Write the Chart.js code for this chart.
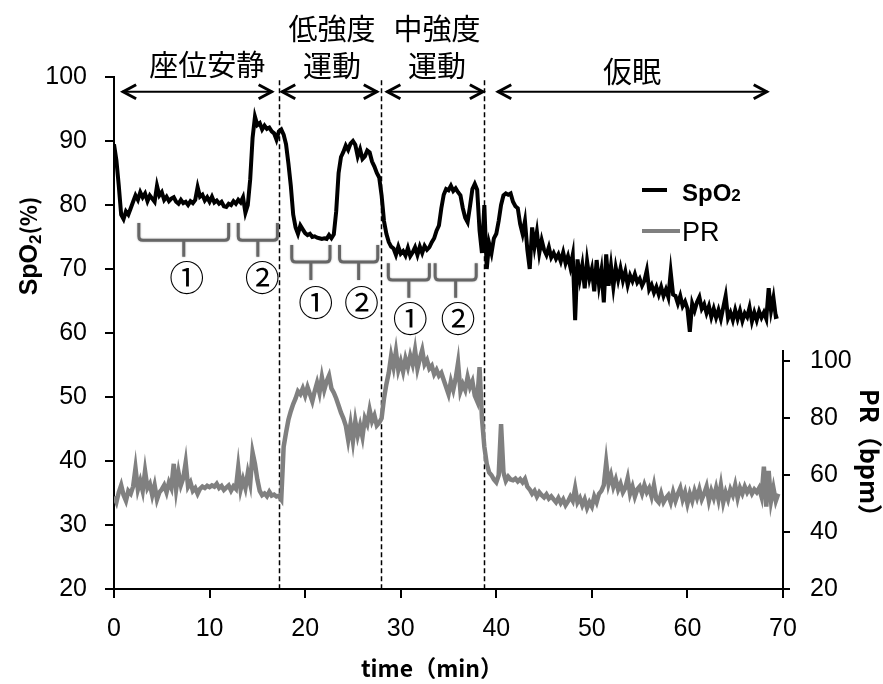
<!DOCTYPE html>
<html lang="ja">
<head>
<meta charset="utf-8">
<title>SpO2 / PR</title>
<script src="https://cdn.jsdelivr.net/npm/chart.js@4.4.1/dist/chart.umd.min.js"></script>
<style>
  html, body { margin: 0; padding: 0; background: #fff; }
</style>
</head>
<body>
<canvas id="oxChart" width="883" height="684"></canvas>
<script>
// sampling interval of the oximeter log (min)
const sampleStep = 0.25;
// start time of each recorded block (min)
const blockStart = [0, 17.5, 28, 38.75];

// SpO2 (%) per block
const spo2Rest = [89.5, 87, 83, 78.5, 77.8, 79, 78.5, 79.5, 80.5, 81.5, 80.8, 82, 81.2, 81.8, 80.6, 81.5,
  81, 80.5, 83, 81.5, 82, 80.8, 81.3, 80.6, 81, 81.2, 80.5, 80.2, 80.8, 80.3, 80.5, 80,
  80.6, 80.3, 80.8, 82.8, 81.3, 81.6, 80.7, 81.2, 80.5, 81.3, 80.4, 80.7, 80.2, 80.5, 79.8, 79.7,
  80.2, 80, 80.6, 80.2, 80.8, 80.4, 81.2, 78.8, 80, 84, 90.5, 93.8, 92.5, 92.8, 91.8, 92.4,
  91.9, 92.1, 91.5, 91.2, 90.2, 91.5];
const spo2Low = [91.8, 91, 89.5, 86.5, 83, 78.5, 76.5, 75.5, 76.8, 76.2, 75.6, 75.3, 75.5, 75,
  75.1, 74.9, 74.8, 74.7, 74.8, 74.7, 75.3, 74.8, 75.4, 79, 85, 87.5, 88.3, 89.3, 88.6, 89.6,
  90, 89.4, 87.6, 88.7, 87.2, 87.6, 88.5, 88.2, 86.8, 86, 85, 84.3];
const spo2Mid = [81.5, 77.5, 75.5, 74.2, 73.5, 73.2, 72.2, 73.5, 72.4, 72.8, 72.1, 73.3, 72, 72.6,
  73.4, 72.2, 73.5, 72.5, 73.6, 73, 73.4, 74.2, 74.8, 76, 76.8, 79.5, 81.6, 82.5, 82.3, 83,
  82.2, 82.6, 82, 81.5, 79.5, 78, 77.3, 79.8, 82.5, 83.3, 82.4, 76, 72.5];
const spo2Nap = [80, 70, 74, 72.5, 74.8, 75.5, 77.5, 80, 81.5, 81.8, 81.6, 81.8, 80.5, 79.8, 79.5, 77,
  75.5, 77.5, 73, 70, 76.5, 73.5, 75.8, 72.5, 74.5, 73, 72.2, 73.4, 71.8, 72.5, 71.6, 72.3,
  71.2, 72.6, 70.9, 72, 70.3, 72.2, 62, 71.5, 68.5, 70.6, 67, 71.2, 68.5, 70, 66.5, 71.4,
  67.5, 69.8, 64.8, 72.3, 67.4, 70.5, 67.2, 70.2, 68.3, 70.1, 68.2, 69.6, 67.5, 69, 68.1, 69.2,
  67.9, 68.5, 67.4, 68.2, 69.8, 66.8, 67.5, 66.3, 67.2, 66, 67.2, 65.8, 66.8, 65.6, 69.5, 66,
  65.8, 64.6, 65.8, 64.2, 64.9, 63.8, 60.2, 64.6, 63.5, 64.8, 65.6, 63.8, 64.5, 63.1, 64.2, 62.5,
  63.8, 62.4, 63.6, 62.2, 64, 65.8, 62.3, 63.2, 62, 63.6, 62.2, 63.5, 61.9, 63.1, 62.5, 64,
  61.8, 63.2, 62, 63.4, 62.4, 63.2, 62.2, 67, 63.5, 65.5, 62.5, 62.6];

// pulse rate (bpm) per block
const prRest = [52.5, 50.5, 54, 56.5, 53, 51, 54.5, 53.5, 56, 62.5, 55, 58, 54.5, 61.5, 55.5, 57,
  53, 56.5, 51.5, 54, 55, 56.5, 54, 57.5, 55.5, 64, 55, 61, 56.5, 59, 64.5, 56,
  57.5, 54.5, 55.5, 53.5, 55.2, 56, 55.5, 56.3, 55.8, 56.4, 56, 57, 55.5, 56.2, 54.8, 55.6,
  56.4, 54.6, 56.1, 55.2, 62.8, 55, 58.5, 55.5, 60.8, 57, 68, 64, 58.5, 54.5, 53, 53.6,
  52.6, 54.2, 52.8, 53.2, 52.5, 52.8];
const prLow = [51.5, 70, 75, 79.5, 82.5, 85, 87, 89.5, 88.5, 90.5, 88, 91, 88.5, 86, 89.5, 92.5,
  89, 94.5, 90, 93, 95, 90.5, 89, 87, 84.5, 82, 80, 77.5, 72.5, 78, 72, 79,
  74, 77.5, 73.5, 80, 78, 83, 79, 81, 77.5, 78.5];
const prMid = [80, 87, 92, 96, 102, 98, 103.5, 97, 100, 96.5, 101, 98, 102, 99, 104, 97.5,
  101, 104, 99, 100.5, 97.5, 98.5, 95.5, 97, 95, 96, 93.5, 91, 88.5, 93, 90, 94,
  99.5, 89.5, 92, 90, 94.5, 91, 93, 88, 86, 98, 80];
const prNap = [70, 64, 61, 60, 58.5, 57.5, 60, 78, 61, 58, 59.5, 58.5, 58.2, 58.8, 57.8, 58.6,
  57.5, 58.7, 56, 55, 53.5, 54.5, 52.5, 54, 53, 52.2, 53.3, 51.8, 52.6, 51.5, 50.5, 52,
  50.2, 51.5, 49.5, 50.8, 52.5, 51, 55.5, 50.5, 52, 49.5, 51.5, 48.5, 50.5, 49, 52.5, 50.5,
  53.5, 54.5, 56.5, 64.5, 57, 60, 56, 58.5, 55, 57, 54, 55.5, 59, 53.5, 56, 52.5,
  55, 56, 53.5, 56.5, 54, 55.5, 52.5, 56.5, 51.5, 50.5, 53.5, 50.5, 52, 53, 50.5, 54,
  51, 53.5, 55.5, 51.5, 54, 50, 53.5, 51, 54.5, 52, 55, 51.5, 53.5, 56, 51, 54.5,
  52, 55.5, 51.5, 56.5, 50.5, 54, 51.5, 55, 53, 56.5, 52, 55.5, 53.5, 56, 54, 55.5,
  53.5, 55, 54, 55.5, 52.5, 63, 49, 61.5, 51, 55.5, 51, 53.5];

// axis ticks
const timeTicks = [0, 10, 20, 30, 40, 50, 60, 70];
const spo2Ticks = [20, 30, 40, 50, 60, 70, 80, 90, 100];
const prTicks = [20, 40, 60, 80, 100];

// block boundaries (dashed lines) and section arrows (min)
const phaseBounds = [17.3, 27.9, 38.7];
const phaseNames = [['座位安静'], ['低強度', '運動'], ['中強度', '運動'], ['仮眠']];
const phaseArrows = [[0.85, 16.6], [17.5, 27.6], [28.5, 38.7], [40.1, 68.4]];

function toPoints(blocks) {
  return blocks.flatMap((vals, k) => vals.map((v, i) => ({ x: blockStart[k] + i * sampleStep, y: v })));
}

const spo2Data = toPoints([spo2Rest, spo2Low, spo2Mid, spo2Nap]);
const prData = toPoints([prRest, prLow, prMid, prNap]);

const JP = '"Noto Sans CJK JP", sans-serif';
const LAT = '"Liberation Sans", Arial, sans-serif';

// label / arrow placement on the SpO2 scale
const labelSpots = [
  { t: 9.75, y: [101.9] },
  { t: 22.8, y: [107.5, 101.7] },
  { t: 33.8, y: [107.5, 101.7] },
  { t: 54.2, y: [100.8] }
];
const arrowLevel = 97.7;

// analysis windows under the SpO2 trace
const windows = [
  { from: 2.6, to: 12.0, top: 77.2, mid: 74.5, stem: 71.9, text: '①', tx: 7.6, ty: 68.6 },
  { from: 13.0, to: 17.1, top: 77.2, mid: 74.5, stem: 71.9, text: '②', tx: 15.5, ty: 68.6 },
  { from: 18.6, to: 22.6, top: 73.75, mid: 71.1, stem: 68.3, text: '①', tx: 21.1, ty: 64.7 },
  { from: 23.6, to: 27.6, top: 73.75, mid: 71.1, stem: 68.3, text: '②', tx: 25.9, ty: 64.7 },
  { from: 28.7, to: 33.0, top: 70.9, mid: 68.3, stem: 65.5, text: '①', tx: 31.0, ty: 62.3 },
  { from: 33.6, to: 37.9, top: 70.9, mid: 68.3, stem: 65.5, text: '②', tx: 36.0, ty: 62.3 }
];

function drawArrow(ctx, x1, x2, yy) {
  ctx.beginPath();
  ctx.moveTo(x1, yy);
  ctx.lineTo(x2, yy);
  ctx.lineWidth = 2;
  ctx.stroke();
  ctx.beginPath();
  ctx.moveTo(x1 + 14, yy - 7); ctx.lineTo(x1 + 1, yy); ctx.lineTo(x1 + 14, yy + 7);
  ctx.moveTo(x2 - 14, yy - 7); ctx.lineTo(x2 - 1, yy); ctx.lineTo(x2 - 14, yy + 7);
  ctx.lineWidth = 3;
  ctx.stroke();
}

function drawBracket(ctx, x1, x2, yTop, yMid, yStem) {
  const r = 4, cx = (x1 + x2) / 2;
  ctx.beginPath();
  ctx.moveTo(x1, yTop);
  ctx.lineTo(x1, yMid - r);
  ctx.quadraticCurveTo(x1, yMid, x1 + r, yMid);
  ctx.lineTo(x2 - r, yMid);
  ctx.quadraticCurveTo(x2, yMid, x2, yMid - r);
  ctx.lineTo(x2, yTop);
  ctx.moveTo(cx, yMid);
  ctx.lineTo(cx, yStem);
  ctx.stroke();
}

const overlay = {
  id: 'overlay',
  beforeDatasetsDraw(chart) {
    const { ctx, chartArea, scales: { x, y } } = chart;
    ctx.save();
    ctx.strokeStyle = '#000';
    ctx.lineWidth = 1.5;
    ctx.setLineDash([5, 3]);
    phaseBounds.forEach(t => {
      const px = Math.round(x.getPixelForValue(t)) + 0.5;
      ctx.beginPath();
      ctx.moveTo(px, y.getPixelForValue(99.5));
      ctx.lineTo(px, chartArea.bottom);
      ctx.stroke();
    });
    ctx.restore();
  },
  afterDraw(chart) {
    const { ctx, chartArea, scales: { x, y, y1 } } = chart;
    ctx.save();
    ctx.fillStyle = '#000';
    ctx.strokeStyle = '#000';

    // right axis line only spans the PR range
    ctx.lineWidth = 2;
    ctx.beginPath();
    ctx.moveTo(chartArea.right, y1.getPixelForValue(20) + 1);
    ctx.lineTo(chartArea.right, y1.getPixelForValue(104));
    ctx.stroke();

    // section names and arrows
    ctx.font = '29px ' + JP;
    ctx.textAlign = 'center';
    ctx.textBaseline = 'middle';
    phaseNames.forEach((lines, i) => {
      lines.forEach((s, j) => {
        ctx.fillText(s, x.getPixelForValue(labelSpots[i].t), y.getPixelForValue(labelSpots[i].y[j]));
      });
      const [a, b] = phaseArrows[i];
      drawArrow(ctx, x.getPixelForValue(a), x.getPixelForValue(b), y.getPixelForValue(arrowLevel));
    });

    // analysis windows
    ctx.strokeStyle = '#666';
    ctx.lineWidth = 3;
    ctx.shadowColor = 'rgba(0,0,0,0.3)';
    ctx.shadowBlur = 2;
    windows.forEach(w => {
      drawBracket(ctx, x.getPixelForValue(w.from), x.getPixelForValue(w.to),
        y.getPixelForValue(w.top), y.getPixelForValue(w.mid), y.getPixelForValue(w.stem));
    });
    ctx.shadowBlur = 0;
    ctx.shadowColor = 'transparent';
    ctx.font = '35px ' + JP;
    windows.forEach(w => {
      ctx.fillText(w.text, x.getPixelForValue(w.tx), y.getPixelForValue(w.ty));
    });

    // legend
    ctx.textAlign = 'left';
    ctx.textBaseline = 'alphabetic';
    ctx.lineWidth = 4;
    ctx.strokeStyle = '#000';
    ctx.beginPath(); ctx.moveTo(642, 190); ctx.lineTo(667, 190); ctx.stroke();
    ctx.font = 'bold 24px ' + LAT;
    ctx.fillText('SpO', 682, 201);
    const w1 = ctx.measureText('SpO').width;
    ctx.font = 'bold 17px ' + LAT;
    ctx.fillText('2', 682 + w1, 201);
    ctx.strokeStyle = '#808080';
    ctx.beginPath(); ctx.moveTo(642, 231); ctx.lineTo(680, 231); ctx.stroke();
    ctx.font = '27px ' + LAT;
    ctx.fillText('PR', 682, 241);

    // axis titles
    ctx.textBaseline = 'middle';
    ctx.font = 'bold 23px ' + JP;
    ctx.textAlign = 'center';
    ctx.fillText('time（min）', 432, 668);

    ctx.save();
    ctx.translate(869, 459);
    ctx.rotate(Math.PI / 2);
    ctx.font = 'bold 25px ' + JP;
    ctx.fillText('PR（bpm）', 0, 0);
    ctx.restore();

    ctx.save();
    ctx.translate(28, 246);
    ctx.rotate(-Math.PI / 2);
    ctx.textAlign = 'left';
    ctx.textBaseline = 'alphabetic';
    const parts = [['SpO', 'bold 25px ' + LAT, 0], ['2', 'bold 17px ' + LAT, 4], ['(%)', 'bold 22px ' + JP, 0]];
    let total = 0;
    parts.forEach(p => { ctx.font = p[1]; total += ctx.measureText(p[0]).width; });
    let cx = -total / 2;
    parts.forEach(p => {
      ctx.font = p[1];
      ctx.fillText(p[0], cx, 9 + p[2]);
      cx += ctx.measureText(p[0]).width;
    });
    ctx.restore();

    ctx.restore();
  }
};

Chart.defaults.color = '#000';
Chart.defaults.font.family = LAT;
Chart.defaults.font.size = 25;

new Chart(document.getElementById('oxChart'), {
  type: 'line',
  data: {
    datasets: [
      { label: 'SpO2', data: spo2Data, yAxisID: 'y', borderColor: '#000', borderWidth: 4, pointRadius: 0 },
      { label: 'PR', data: prData, yAxisID: 'y1', borderColor: '#808080', borderWidth: 4.5, pointRadius: 0 }
    ]
  },
  options: {
    responsive: false,
    animation: false,
    devicePixelRatio: 1,
    events: [],
    layout: { padding: { top: 77 } },
    plugins: { legend: { display: false }, tooltip: { enabled: false } },
    scales: {
      x: {
        type: 'linear',
        min: 0,
        max: 70,
        afterBuildTicks: s => { s.ticks = timeTicks.map(v => ({ value: v })); },
        afterFit: s => { s.height = 95; },
        ticks: { padding: 16, maxRotation: 0 },
        grid: { drawOnChartArea: false, drawTicks: true, tickLength: 9, color: '#000', lineWidth: 2 },
        border: { color: '#000', width: 2 }
      },
      y: {
        position: 'left',
        min: 20,
        max: 100,
        afterBuildTicks: s => { s.ticks = spo2Ticks.map(v => ({ value: v })); },
        afterFit: s => { s.width = 114; },
        ticks: { padding: 18 },
        grid: { drawOnChartArea: false, drawTicks: true, tickLength: 9, color: '#000', lineWidth: 2 },
        border: { color: '#000', width: 2 }
      },
      y1: {
        position: 'right',
        min: 20,
        max: 200,
        afterBuildTicks: s => { s.ticks = prTicks.map(v => ({ value: v })); },
        afterFit: s => { s.width = 100; },
        ticks: { padding: 20 },
        grid: { drawOnChartArea: false, drawTicks: true, tickLength: 7, color: '#000', lineWidth: 2 },
        border: { display: false }
      }
    }
  },
  plugins: [overlay]
});
</script>
</body>
</html>
